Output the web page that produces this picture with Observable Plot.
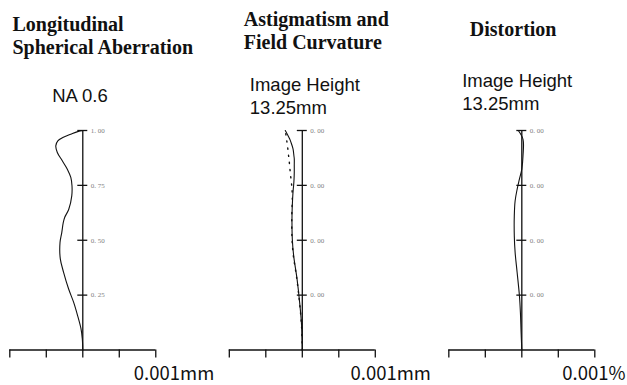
<!DOCTYPE html>
<html><head><meta charset="utf-8">
<script src="https://cdn.jsdelivr.net/npm/d3@7"></script>
<script src="https://cdn.jsdelivr.net/npm/@observablehq/plot@0.6"></script>
<style>body{margin:0;background:#fff} #chart{width:627px;height:385px}</style>
</head><body><div id="chart"></div>
<script>
// Panels
const panels = ["sa", "astig", "dist"];

// Longitudinal spherical aberration (normalized pupil height vs mm)
const saHeights = [0, 0.051, 0.097, 0.157, 0.218, 0.279, 0.354, 0.415, 0.490, 0.535, 0.581, 0.605, 0.641, 0.702, 0.748, 0.786, 0.824, 0.862, 0.900, 0.930, 0.953, 0.968, 0.983, 0.995, 1.0];
const saValues = [0, -0.0000068, -0.0000247, -0.0000712, -0.000126, -0.000195, -0.000263, -0.000308, -0.000312, -0.000288, -0.000267, -0.000247, -0.000192, -0.000151, -0.000148, -0.000164, -0.000212, -0.000281, -0.000349, -0.000370, -0.000342, -0.000274, -0.000165, -0.000070, 0];

// Astigmatism / field curvature (normalized image height vs mm)
const astHeights = [0, 0.112, 0.219, 0.325, 0.431, 0.506, 0.612, 0.688, 0.733, 0.749, 0.779, 0.810, 0.840, 0.871, 0.885, 0.916, 0.946, 0.962, 1.0];
const astTangential = [0, -0.0000096, -0.000037, -0.0000726, -0.000119, -0.000137, -0.000141, -0.000133, -0.000124, -0.000119, -0.000113, -0.000110, -0.000110, -0.000110, -0.000115, -0.000127, -0.000155, -0.000174, -0.000233];
const astSagittal = [0, -0.000011, -0.0000384, -0.0000754, -0.000123, -0.000141, -0.000144, -0.000137, -0.000141, -0.000145, -0.000155, -0.000165, -0.000174, -0.000182, -0.000188, -0.000198, -0.000210, -0.000216, -0.000233];

// Distortion (normalized image height vs %)
const distHeights = [0, 0.080, 0.171, 0.248, 0.354, 0.445, 0.520, 0.611, 0.679, 0.732, 0.778, 0.824, 0.885, 0.960, 1.0];
const distValues = [0, -0.0000096, -0.0000192, -0.0000329, -0.0000644, -0.0000918, -0.000103, -0.000103, -0.0000918, -0.0000644, -0.0000329, 0, 0.0000164, 0.0000164, -0.000048];

// Axis ticks
const xTicks = [-0.001, -0.0005, 0, 0.0005, 0.001];
const yTicks = [0.25, 0.5, 0.75, 1.0];
const saTickLabels = ["0. 25", "0. 50", "0. 75", "1. 00"];
const otherTickLabels = ["0. 00", "0. 00", "0. 00", "0. 00"];

// Texts
const titles = {sa: "Longitudinal\nSpherical Aberration", astig: "Astigmatism and\nField Curvature", dist: "Distortion"};
const subtitles = {sa: "NA 0.6", astig: "Image Height\n13.25mm", dist: "Image Height\n13.25mm"};
const unitLabels = {sa: "0.001mm", astig: "0.001mm", dist: "0.001%"};

// Build tables
const curveRows = [];
saHeights.forEach((h, i) => curveRows.push({panel: "sa", series: "sa", h, v: saValues[i]}));
astHeights.forEach((h, i) => curveRows.push({panel: "astig", series: "T", h, v: astTangential[i]}));
distHeights.forEach((h, i) => curveRows.push({panel: "dist", series: "dist", h, v: distValues[i]}));
const sagRows = astHeights.map((h, i) => ({panel: "astig", series: "S", h, v: astSagittal[i]}));

const tickLabelRows = [];
panels.forEach(p => yTicks.forEach((t, i) => tickLabelRows.push({panel: p, h: t, label: p === "sa" ? saTickLabels[i] : otherTickLabels[i]})));

const serif = "Liberation Serif, Times New Roman, serif";
const sans = "Liberation Sans, Arial, sans-serif";
const cjk = "Noto Sans CJK JP, Liberation Sans, sans-serif";

function textMark(panel, text, opts) {
  return Plot.text([{panel, text}], {fx: "panel", text: "text", textAnchor: "start", lineAnchor: "bottom", fill: "#111", ...opts});
}

const chart = Plot.plot({
  width: 627,
  height: 385,
  marginLeft: 9.3,
  marginRight: 32.7,
  marginTop: 130,
  marginBottom: 35.5,
  style: {background: "#fff", overflow: "visible"},
  fx: {domain: panels, paddingInner: 0.335, paddingOuter: 0, round: false, axis: null, label: null},
  x: {domain: [-0.001, 0.001], label: null},
  y: {domain: [0, 1], label: null, axis: null},
  marks: [
    Plot.ruleX([0], {stroke: "#111", strokeWidth: 1.3}),
    Plot.ruleY([0], {stroke: "#111", strokeWidth: 1.3}),
    Plot.axisX({ticks: xTicks, tickSize: 8, tickFormat: () => "", stroke: "#111", strokeWidth: 1.3, strokeOpacity: 1, label: null}),
    Plot.tickY(yTicks, {y: d => d, insetLeft: 68, insetRight: 68, stroke: "#111", strokeWidth: 1.3}),
    Plot.text(tickLabelRows, {fx: "panel", x: 0, y: "h", text: "label", dx: 8, textAnchor: "start", fontFamily: serif, fontSize: 7, fill: "#808080"}),
    Plot.line(curveRows, {fx: "panel", x: "v", y: "h", z: "series", stroke: "#111", strokeWidth: 1.1, curve: "catmull-rom"}),
    Plot.line(sagRows, {fx: "panel", x: "v", y: "h", stroke: "#111", strokeWidth: 1.4, strokeDasharray: "1.2,6", curve: "catmull-rom"}),
    // titles
    textMark("sa", titles.sa, {frameAnchor: "top-left", dx: 2.7, dy: -76.7, fontFamily: serif, fontWeight: "bold", fontSize: 20, lineHeight: 1.15}),
    textMark("astig", titles.astig, {frameAnchor: "top-left", dx: 14.5, dy: -81.7, fontFamily: serif, fontWeight: "bold", fontSize: 20, lineHeight: 1.15}),
    textMark("dist", titles.dist, {frameAnchor: "top-left", dx: 21, dy: -95, fontFamily: serif, fontWeight: "bold", fontSize: 20, lineHeight: 1.15}),
    // subtitles
    textMark("sa", subtitles.sa, {frameAnchor: "top-left", dx: 42.4, dy: -28.3, fontFamily: sans, fontSize: 18.5}),
    textMark("astig", subtitles.astig, {frameAnchor: "top-left", dx: 20.5, dy: -16.7, fontFamily: sans, fontSize: 18.5, lineHeight: 1.24}),
    textMark("dist", subtitles.dist, {frameAnchor: "top-left", dx: 13.4, dy: -21, fontFamily: sans, fontSize: 18.5, lineHeight: 1.24}),
    // unit labels
    textMark("sa", unitLabels.sa, {frameAnchor: "bottom-left", dx: 124, dy: 30, fontFamily: cjk, fontSize: 18.5}),
    textMark("astig", unitLabels.astig, {frameAnchor: "bottom-left", dx: 121.2, dy: 30, fontFamily: cjk, fontSize: 18.5}),
    textMark("dist", unitLabels.dist, {frameAnchor: "bottom-left", dx: 113.4, dy: 30, fontFamily: cjk, fontSize: 18.5})
  ]
});
document.getElementById("chart").appendChild(chart);
</script>
</body></html>
